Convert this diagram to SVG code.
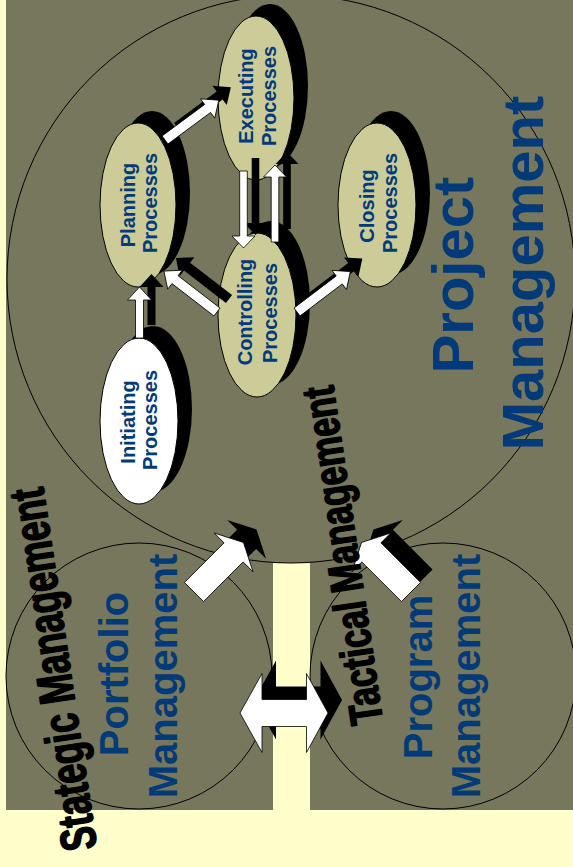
<svg xmlns="http://www.w3.org/2000/svg" width="573" height="867" viewBox="0 0 573 867">
  <style>
    .bg{fill:#FFFFCC}
    .panel{fill:#76775C}
    .strip{fill:#FFFFCC}
    .ring{fill:none;stroke:#000;stroke-width:1}
    .shadow{fill:#000}
    .proc{fill:#CCCC99;stroke:#000;stroke-width:1}
    .start{fill:#FFFFFF;stroke:#000;stroke-width:1}
    .arrow{fill:#FFFFFF;stroke:#000;stroke-width:0.8}
    .ptxt{font-family:"Liberation Sans",Arial,sans-serif;font-weight:bold;font-size:20px;fill:#003A78;text-anchor:middle}
    .big{font-family:"Liberation Sans",Arial,sans-serif;font-weight:bold;font-size:58px;fill:#003A78;text-anchor:middle}
    .mid{font-family:"Liberation Sans",Arial,sans-serif;font-weight:bold;font-size:40px;fill:#003A78;text-anchor:middle}
    .wa{font-family:"Liberation Sans",Arial,sans-serif;font-weight:bold;fill:#000;stroke:#000;stroke-width:1.6;stroke-linejoin:round}
  </style>
  <defs>
    <!-- small block arrows, pointing along +x from the tail at the origin -->
    <path id="arr67" d="M0,-5 H53 V-12 L67,0 L53,12 V5 H0 Z"/>
    <path id="arr51" d="M0,-4 H38 V-12 L51,0 L38,12 V4 H0 Z"/>
    <path id="arr77" d="M0,-3.8 H65 V-11.5 L77,0 L65,11.5 V3.8 H0 Z"/>
    <!-- wide block arrows between the management levels -->
    <path id="arrBig" d="M0,-13.5 H56 V-27.5 L70,0 L56,27.5 V13.5 H0 Z"/>
    <path id="arrDouble" d="M240,713 L262,673.5 V699.5 H306.5 V673.5 L328,713 L306.5,752.5 V726.5 H262 V752.5 Z"/>
  </defs>

  <!-- page and panel -->
  <rect class="bg" x="0" y="0" width="573" height="867"/>
  <rect class="panel" x="6" y="0" width="567" height="810"/>
  <rect class="strip" x="273" y="563" width="37" height="248"/>

  <!-- management level outlines -->
  <g id="project-management">
    <circle class="ring" cx="291" cy="279" r="284"/>
  </g>
  <g id="portfolio-management">
    <circle class="ring" cx="139" cy="676" r="133"/>
  </g>
  <g id="program-management">
    <circle class="ring" cx="443" cy="676" r="133"/>
  </g>

  <!-- process groups -->
  <g id="initiating">
    <ellipse class="shadow" cx="153" cy="409" rx="39" ry="83"/>
    <ellipse class="start" cx="139" cy="421" rx="39" ry="83"/>
    <text class="ptxt" transform="translate(135,422) rotate(-90)">Initiating</text>
    <text class="ptxt" transform="translate(157,420) rotate(-90)">Processes</text>
  </g>
  <g id="planning">
    <ellipse class="shadow" cx="152" cy="193" rx="38" ry="82"/>
    <ellipse class="proc" cx="138" cy="205" rx="38" ry="82"/>
    <text class="ptxt" transform="translate(135,205) rotate(-90)">Planning</text>
    <text class="ptxt" transform="translate(157,203) rotate(-90)">Processes</text>
  </g>
  <g id="executing">
    <ellipse class="shadow" cx="270" cy="86" rx="38" ry="82"/>
    <ellipse class="proc" cx="256" cy="98" rx="38" ry="82"/>
    <text class="ptxt" transform="translate(253,96) rotate(-90)">Executing</text>
    <text class="ptxt" transform="translate(276,96) rotate(-90)">Processes</text>
  </g>
  <g id="controlling">
    <ellipse class="shadow" cx="271" cy="303" rx="39" ry="82"/>
    <ellipse class="proc" cx="257" cy="315" rx="39" ry="82"/>
    <text class="ptxt" transform="translate(252,312) rotate(-90)">Controlling</text>
    <text class="ptxt" transform="translate(277,313) rotate(-90)">Processes</text>
  </g>
  <g id="closing">
    <ellipse class="shadow" cx="391" cy="193" rx="39" ry="82"/>
    <ellipse class="proc" cx="377" cy="205" rx="39" ry="82"/>
    <text class="ptxt" transform="translate(374,206) rotate(-90)">Closing</text>
    <text class="ptxt" transform="translate(397,203) rotate(-90)">Processes</text>
  </g>

  <!-- connectors: black drop shadow first, white arrow on top -->
  <g id="connectors">
    <use href="#arr51" class="shadow" transform="translate(151.5,325) rotate(-90)"/>
    <use href="#arr51" class="arrow" transform="translate(139.5,338) rotate(-90)"/>

    <use href="#arr67" class="shadow" transform="translate(177,127) rotate(-36.5)"/>
    <use href="#arr67" class="arrow" transform="translate(165,140) rotate(-36.5)"/>

    <use href="#arr77" class="shadow" transform="translate(255.5,158) rotate(90)"/>
    <use href="#arr77" class="arrow" transform="translate(243.5,171) rotate(90)"/>

    <use href="#arr77" class="shadow" transform="translate(287,229) rotate(-90)"/>
    <use href="#arr77" class="arrow" transform="translate(275,242) rotate(-90)"/>

    <use href="#arr67" class="shadow" transform="translate(229,299) rotate(-142.4)"/>
    <use href="#arr67" class="arrow" transform="translate(217,312) rotate(-142.4)"/>

    <use href="#arr67" class="shadow" transform="translate(309,299) rotate(-37.2)"/>
    <use href="#arr67" class="arrow" transform="translate(297,312) rotate(-37.2)"/>

    <use href="#arrBig" class="shadow" transform="translate(207,579) rotate(-45)"/>
    <use href="#arrBig" class="arrow" transform="translate(194,592) rotate(-45)"/>

    <use href="#arrBig" class="shadow" transform="translate(423,579) rotate(-135)"/>
    <use href="#arrBig" class="arrow" transform="translate(411,592) rotate(-135)"/>

    <use href="#arrDouble" class="shadow" transform="translate(14,-13)"/>
    <use href="#arrDouble" class="arrow"/>
  </g>

  <!-- level titles -->
  <g id="project-title">
    <text class="big" transform="translate(473,275) rotate(-90)">Project</text>
    <text class="big" transform="translate(543,273) rotate(-90)">Management</text>
  </g>
  <g id="portfolio-title">
    <text class="mid" transform="translate(128,674) rotate(-90)">Portfolio</text>
    <text class="mid" transform="translate(177,676) rotate(-90)">Management</text>
  </g>
  <g id="program-title">
    <text class="mid" transform="translate(432,677) rotate(-90)">Program</text>
    <text class="mid" transform="translate(480,676) rotate(-90)">Management</text>
  </g>
  <!-- condensed slanted level labels -->
  <g id="strategic-label">
    <text class="wa" font-size="50" transform="translate(97,848) rotate(-98.5) scale(0.712,1)">Stategic Management</text>
  </g>
  <g id="tactical-label">
    <text class="wa" font-size="46" transform="translate(383,722) rotate(-98.4) scale(0.739,1)">Tactical Management</text>
  </g>
</svg>
